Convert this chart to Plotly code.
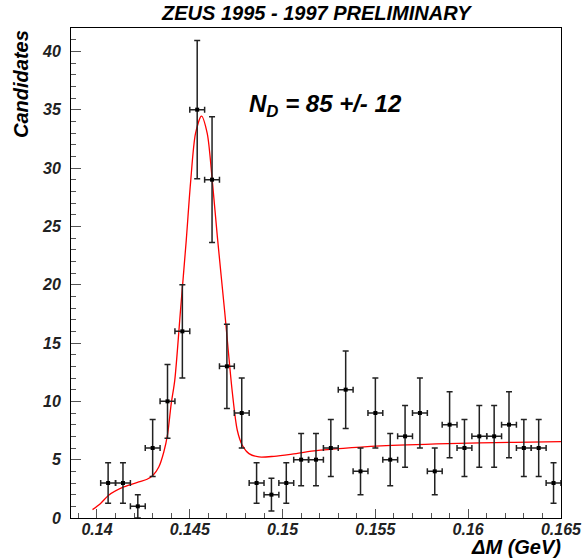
import plotly.graph_objects as go

# Bin centres (GeV) and candidate counts
bin_centers = [0.1406, 0.1414, 0.1422, 0.1430, 0.1438, 0.1446, 0.1454, 0.1462,
               0.1470, 0.1478, 0.1486, 0.1494, 0.1502, 0.1510, 0.1518, 0.1526,
               0.1534, 0.1542, 0.1550, 0.1558, 0.1566, 0.1574, 0.1582, 0.1590,
               0.1598, 0.1606, 0.1614, 0.1622, 0.1630, 0.1638, 0.1646]
counts = [3, 3, 1, 6, 10, 16, 35, 29, 13, 9, 3, 2, 3, 5, 5, 6, 11, 4, 9, 5,
          7, 9, 4, 8, 6, 7, 7, 8, 6, 6, 3]
count_errors = [1.73, 1.73, 1.0, 2.45, 3.16, 4.0, 5.92, 5.39, 3.61, 3.0, 1.73,
                1.41, 1.73, 2.24, 2.24, 2.45, 3.32, 2.0, 3.0, 2.24, 2.65, 3.0,
                2.0, 2.83, 2.45, 2.65, 2.65, 2.83, 2.45, 2.45, 1.73]
bin_half_width = [0.0004] * len(bin_centers)

# Fit curve
fit_x = [0.13976, 0.14018, 0.14063, 0.14144, 0.14225, 0.14270, 0.14302,
         0.14333, 0.14360, 0.14381, 0.14400, 0.14419, 0.14450, 0.14481,
         0.14504, 0.14531, 0.14563, 0.14594, 0.14621, 0.14648, 0.14688,
         0.14729, 0.14756, 0.14783, 0.14819, 0.14873, 0.14954, 0.15044,
         0.15170, 0.15530, 0.15890, 0.16250, 0.16500]
fit_y = [0.72, 1.23, 1.95, 2.66, 3.09, 3.32, 3.66,
         4.37, 5.66, 7.24, 9.81, 11.8, 17.8, 23.8,
         28.7, 32.97, 34.45, 32.97, 28.96, 24.2, 17.7,
         10.8, 7.52, 6.24, 5.52, 5.23, 5.29, 5.46,
         5.75, 6.18, 6.38, 6.49, 6.55]

x_tickvals = [0.14, 0.145, 0.15, 0.155, 0.16, 0.165]
x_ticktext = ["0.14", "0.145", "0.15", "0.155", "0.16", "0.165"]
y_tickvals = [0, 5, 10, 15, 20, 25, 30, 35, 40]
y_ticktext = ["0", "5", "10", "15", "20", "25", "30", "35", "40"]

FONT = "Liberation Sans"

fig = go.Figure()
fig.add_trace(go.Scatter(
    x=fit_x, y=fit_y, mode="lines",
    line=dict(color="#ff0000", width=1.3, shape="spline", smoothing=0.8),
    hoverinfo="skip", showlegend=False))
fig.add_trace(go.Scatter(
    x=bin_centers, y=counts, mode="markers",
    marker=dict(symbol="square", size=4, color="black"),
    error_y=dict(type="data", array=count_errors, color="#222222", thickness=1.5, width=3),
    error_x=dict(type="data", array=bin_half_width, color="#222222", thickness=1.5, width=3),
    showlegend=False))

tickfont = dict(family=FONT, size=16, color="#222222", weight="bold", style="italic")

fig.update_layout(
    width=582, height=560,
    margin=dict(l=71, r=21, t=28, b=42, autoexpand=False),
    paper_bgcolor="white", plot_bgcolor="white",
    xaxis=dict(range=[0.1386, 0.165002], tickvals=x_tickvals, ticktext=x_ticktext,
               ticks="inside", ticklen=9, tickwidth=1, tickcolor="#555555",
               minor=dict(dtick=0.001, ticks="inside", ticklen=5, tickcolor="#555555",
                          tick0=0.14),
               showline=True, linecolor="black", linewidth=1, mirror=True,
               showgrid=False, zeroline=False, tickfont=tickfont,
               ticklabelstandoff=-3, ticklabeloverflow="allow", automargin=False),
    yaxis=dict(range=[0, 42], tickvals=y_tickvals, ticktext=y_ticktext,
               ticks="inside", ticklen=10, tickwidth=1, tickcolor="#555555",
               minor=dict(dtick=1, ticks="inside", ticklen=5, tickcolor="#555555",
                          tick0=0),
               showline=True, linecolor="black", linewidth=1, mirror=True,
               showgrid=False, zeroline=False, tickfont=tickfont,
               ticklabelstandoff=6, automargin=False),
    annotations=[
        dict(text="ZEUS 1995 - 1997 PRELIMINARY", xref="paper", yref="paper",
             x=0.5, y=1, yshift=2, xanchor="center", yanchor="bottom", showarrow=False,
             font=dict(family=FONT, size=20, color="black", weight="bold", style="italic")),
        dict(text="Candidates", xref="paper", yref="paper", x=0, xshift=-50,
             y=1, xanchor="center", yanchor="top", textangle=-90, showarrow=False,
             font=dict(family=FONT, size=20, color="black", weight="bold", style="italic")),
        dict(text="ΔM (GeV)", xref="paper", yref="paper", x=1, xshift=2, y=0, yshift=-42,
             xanchor="right", yanchor="bottom", showarrow=False,
             font=dict(family=FONT, size=20, color="black", weight="bold", style="italic")),
        dict(text="N<sub>D</sub> = 85 +/- 12", xref="x", yref="y", x=0.14808, y=35.4,
             xanchor="left", yanchor="middle", showarrow=False,
             font=dict(family=FONT, size=24, color="black", weight="bold", style="italic")),
    ],
)

fig.write_html("out.html")
